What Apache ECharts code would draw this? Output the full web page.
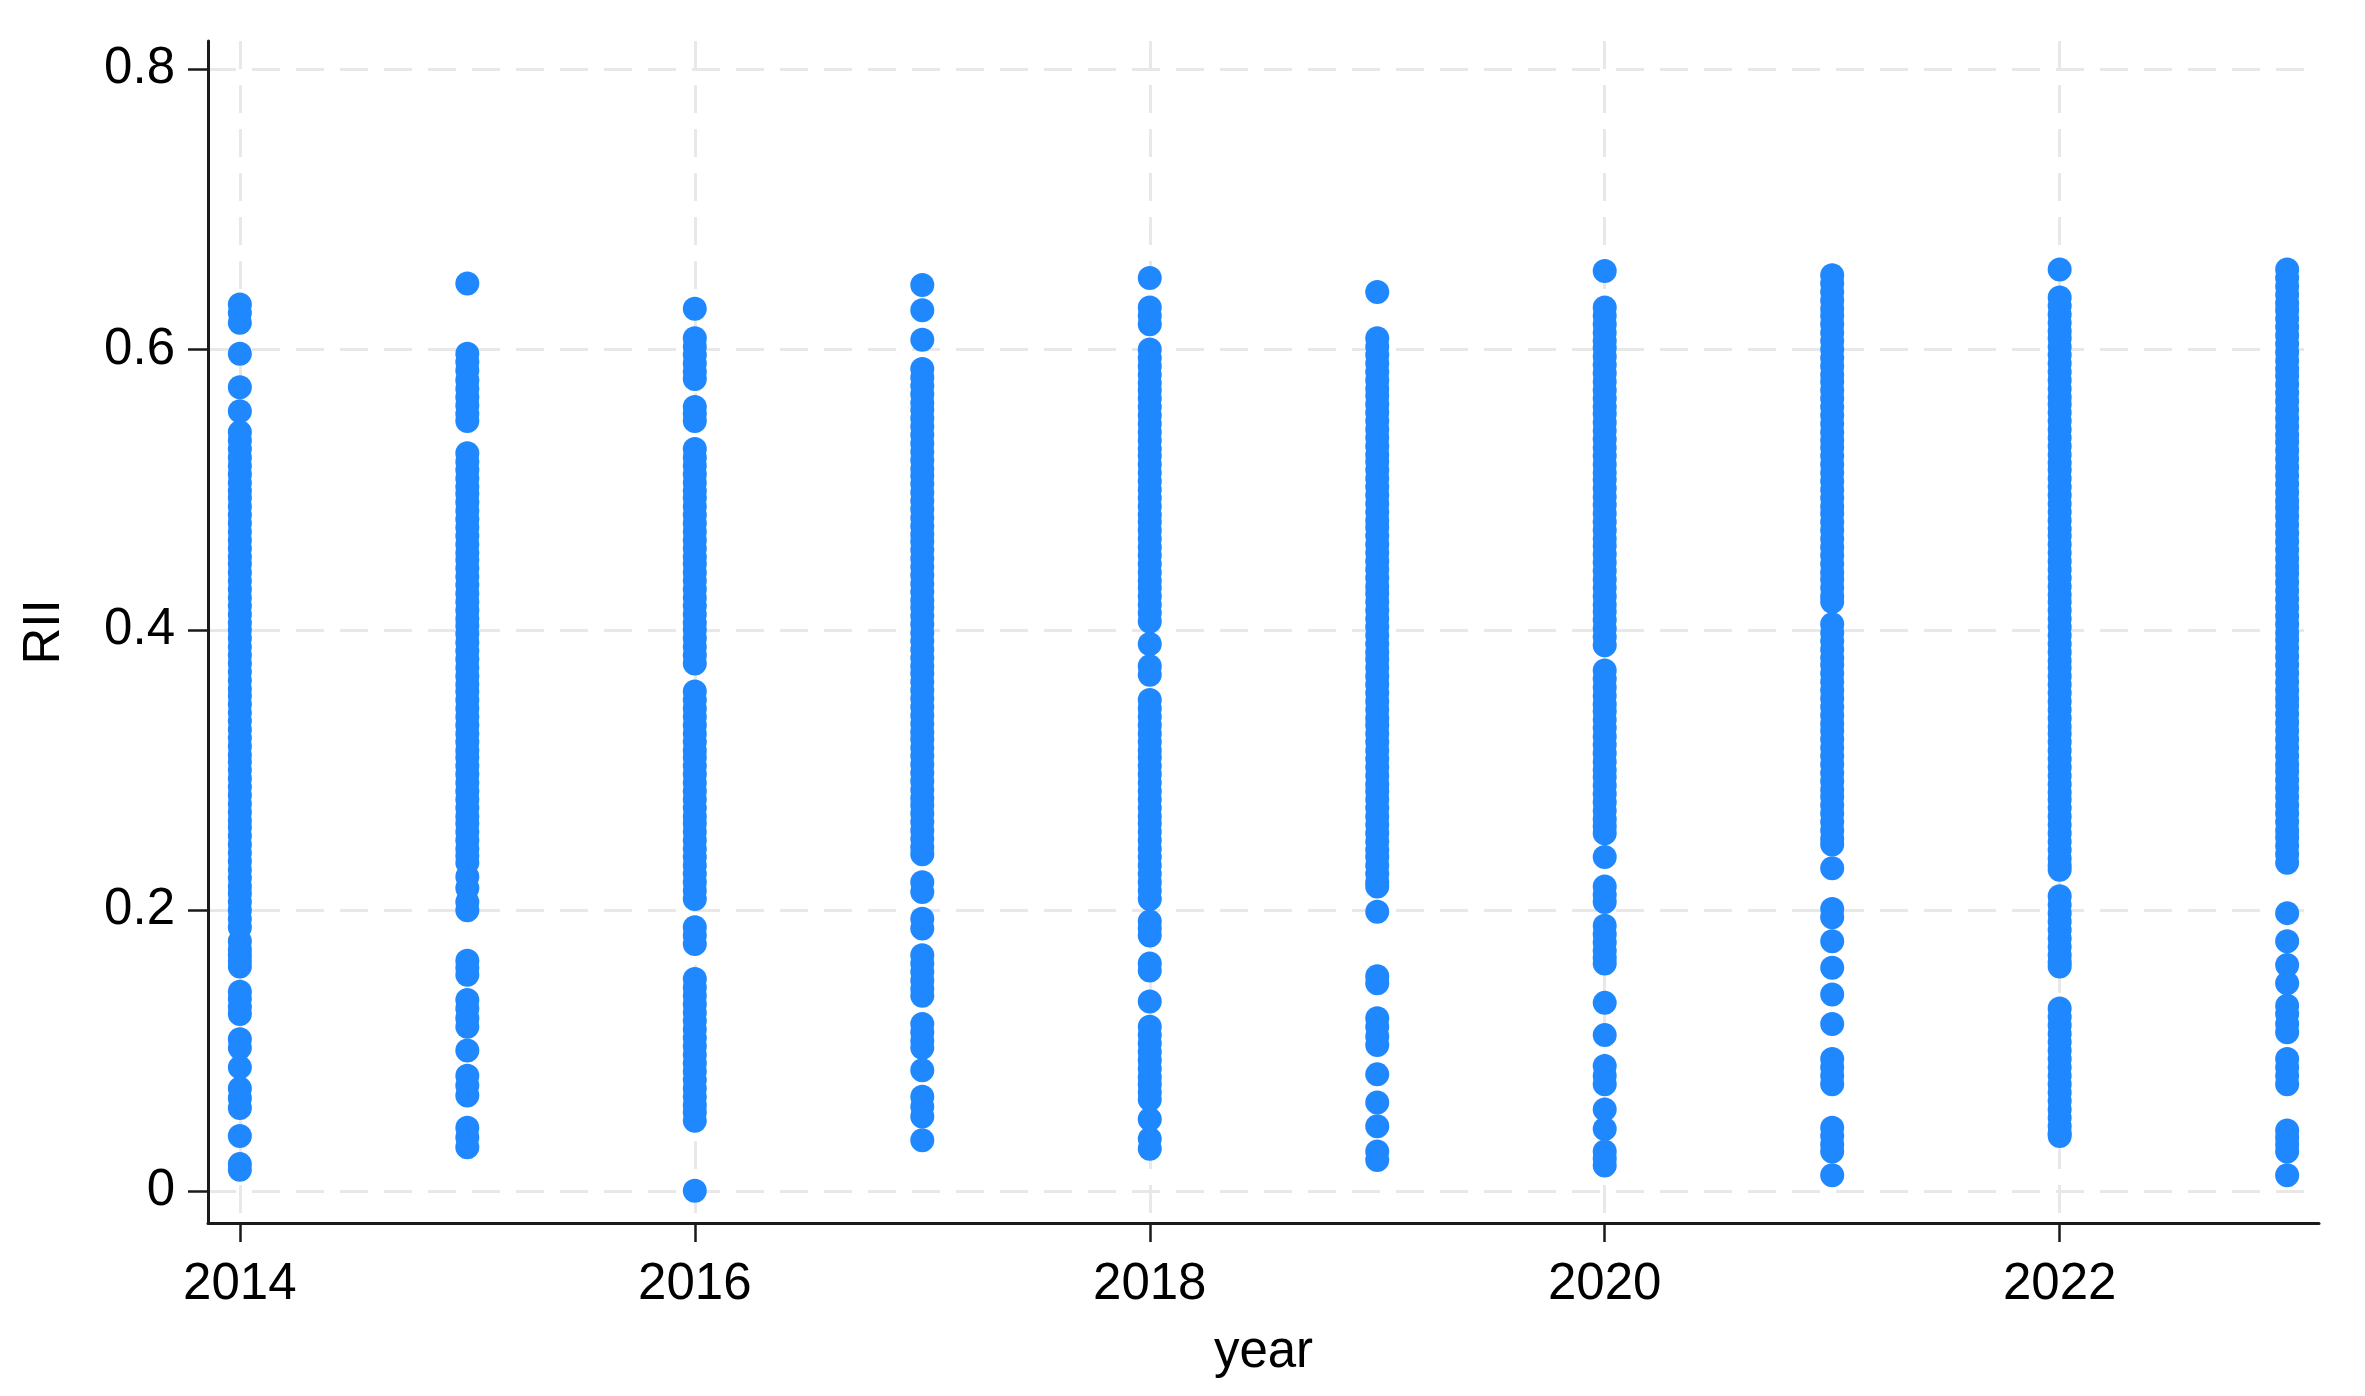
<!DOCTYPE html>
<html>
<head>
<meta charset="utf-8">
<script src="https://cdn.jsdelivr.net/npm/echarts@6/dist/echarts.min.js"></script>
<style>
html,body{margin:0;padding:0;background:#fff;}
#chart{width:2365px;height:1396px;}
</style>
</head>
<body>
<div id="chart"></div>
<script>
const years = [2014, 2015, 2016, 2017, 2018, 2019, 2020, 2021, 2022, 2023];
const xTicks = [2014, 2016, 2018, 2020, 2022];
const yTicks = [0, 0.2, 0.4, 0.6, 0.8];

const y2014 = [0.632,0.626,0.619,0.597,0.573,0.556,
0.541,0.535,0.529,0.523,0.517,0.511,0.505,0.499,0.494,0.488,0.482,0.476,0.470,0.464,0.458,0.452,0.447,0.441,0.435,0.429,0.423,0.417,0.411,0.405,0.400,0.394,0.388,0.382,0.376,0.370,0.364,0.358,0.353,0.347,0.341,0.335,0.329,0.323,0.317,0.311,0.306,0.300,0.294,0.288,0.282,0.276,0.270,0.264,0.259,0.253,0.247,0.241,0.235,0.229,0.223,0.217,0.212,0.206,0.200,0.194,0.188,
0.178,0.172,0.168,0.164,0.160,0.142,0.137,0.131,0.126,0.108,0.102,0.088,0.073,0.066,0.059,0.039,0.019,0.015];
const y2015 = [0.647,0.597,0.591,0.585,0.578,0.572,0.566,0.560,0.554,0.549,
0.526,0.520,0.514,0.508,0.502,0.497,0.491,0.485,0.479,0.473,0.467,0.461,0.455,0.450,0.444,0.438,0.432,0.426,0.420,0.414,0.408,0.403,0.397,0.391,0.385,0.379,0.373,0.367,0.361,0.356,0.350,0.344,0.338,0.332,0.326,0.320,0.314,0.309,0.303,0.297,0.291,0.285,0.279,0.273,0.267,0.262,0.256,0.250,0.244,0.239,0.234,
0.224,0.216,0.206,0.200,0.164,0.159,0.154,0.136,0.130,0.123,0.117,0.100,0.082,0.075,0.068,0.045,0.038,0.031];
const y2016 = [0.629,0.608,0.602,0.596,0.590,0.584,0.579,0.559,0.554,0.549,
0.529,0.523,0.517,0.511,0.505,0.499,0.494,0.488,0.482,0.476,0.470,0.464,0.458,0.452,0.447,0.441,0.435,0.429,0.423,0.417,0.411,0.405,0.400,0.394,0.388,0.382,0.376,
0.356,0.350,0.344,0.338,0.332,0.326,0.320,0.314,0.309,0.303,0.297,0.291,0.285,0.279,0.273,0.267,0.262,0.256,0.250,0.244,0.238,0.232,0.226,0.220,0.214,0.208,
0.188,0.182,0.176,0.151,0.145,0.139,0.133,0.127,0.121,0.115,0.109,0.103,0.097,0.091,0.085,0.079,0.073,0.067,0.061,0.056,0.050,0.000];
const y2017 = [0.646,0.628,0.607,
0.586,0.580,0.574,0.568,0.562,0.557,0.551,0.545,0.539,0.533,0.527,0.521,0.515,0.510,0.504,0.498,0.492,0.486,0.480,0.474,0.468,0.463,0.457,0.451,0.445,0.439,0.433,0.427,0.421,0.416,0.410,0.404,0.398,0.392,0.386,0.380,0.374,0.369,0.363,0.357,0.351,0.345,0.339,0.333,0.327,0.322,0.316,0.310,0.304,0.298,0.292,0.286,0.280,0.275,0.269,0.263,0.257,0.251,0.245,0.240,
0.220,0.213,0.194,0.187,0.168,0.162,0.156,0.150,0.144,0.139,0.119,0.113,0.107,0.102,0.086,0.067,0.060,0.053,0.036];
const y2018 = [0.651,0.630,0.624,0.618,
0.600,0.594,0.588,0.582,0.576,0.571,0.565,0.559,0.553,0.547,0.541,0.535,0.529,0.524,0.518,0.512,0.506,0.500,0.494,0.488,0.482,0.477,0.471,0.465,0.459,0.453,0.447,0.441,0.435,0.430,0.424,0.418,0.412,0.406,
0.390,0.374,0.368,
0.350,0.344,0.338,0.332,0.326,0.320,0.314,0.309,0.303,0.297,0.291,0.285,0.279,0.273,0.267,0.262,0.256,0.250,0.244,0.238,0.232,0.226,0.220,0.214,0.208,
0.192,0.187,0.182,0.162,0.157,0.135,0.117,0.111,0.105,0.099,0.093,0.087,0.081,0.076,0.070,0.065,0.051,0.037,0.030];
const y2019 = [0.641,
0.608,0.602,0.596,0.590,0.584,0.578,0.572,0.567,0.561,0.555,0.549,0.543,0.537,0.531,0.525,0.520,0.514,0.508,0.502,0.496,0.490,0.484,0.478,0.473,0.467,0.461,0.455,0.449,0.443,0.437,0.431,0.426,0.420,0.414,0.408,0.402,0.396,0.390,0.384,0.379,0.373,0.367,0.361,0.355,0.349,0.343,0.337,0.332,0.326,0.320,0.314,0.308,0.302,0.296,0.290,0.285,0.279,0.273,0.267,0.261,0.255,0.249,0.243,0.238,0.232,0.226,0.220,0.217,
0.199,0.153,0.148,0.123,0.117,0.110,0.104,0.083,0.063,0.046,0.028,0.022];
const y2020 = [0.656,
0.630,0.624,0.618,0.612,0.606,0.601,0.595,0.589,0.583,0.577,0.571,0.565,0.559,0.554,0.548,0.542,0.536,0.530,0.524,0.518,0.512,0.507,0.501,0.495,0.489,0.483,0.477,0.471,0.465,0.460,0.454,0.448,0.442,0.436,0.430,0.424,0.418,0.413,0.407,0.401,0.395,0.389,
0.371,0.365,0.359,0.353,0.347,0.342,0.336,0.330,0.324,0.318,0.312,0.306,0.300,0.295,0.289,0.283,0.277,0.271,0.265,0.260,0.255,
0.238,0.217,0.211,0.206,0.189,0.183,0.177,0.171,0.166,0.162,0.134,0.111,0.089,0.082,0.076,0.058,0.044,0.028,0.023,0.018];
const y2021 = [0.653,0.647,0.641,0.635,0.629,0.624,0.618,0.612,0.606,0.600,0.594,0.588,0.582,0.577,0.571,0.565,0.559,0.553,0.547,0.541,0.535,0.530,0.524,0.518,0.512,0.506,0.500,0.494,0.488,0.483,0.477,0.471,0.465,0.459,0.453,0.447,0.441,0.436,0.430,0.424,0.420,
0.404,0.398,0.392,0.386,0.380,0.375,0.369,0.363,0.357,0.351,0.345,0.339,0.333,0.328,0.322,0.316,0.310,0.304,0.298,0.292,0.286,0.281,0.275,0.269,0.263,0.257,0.251,0.247,
0.230,0.201,0.195,0.178,0.159,0.140,0.119,0.094,0.088,0.082,0.076,0.045,0.039,0.033,0.028,0.011];
const y2022 = [0.657,
0.637,0.631,0.625,0.619,0.613,0.608,0.602,0.596,0.590,0.584,0.578,0.572,0.566,0.561,0.555,0.549,0.543,0.537,0.531,0.525,0.519,0.514,0.508,0.502,0.496,0.490,0.484,0.478,0.472,0.467,0.461,0.455,0.449,0.443,0.437,0.431,0.425,0.420,0.414,0.408,0.402,0.396,0.390,0.384,0.378,0.373,0.367,0.361,0.355,0.349,0.343,0.337,0.331,0.326,0.320,0.314,0.308,0.302,0.296,0.290,0.284,0.279,0.273,0.267,0.261,0.255,0.249,0.243,0.237,0.232,0.229,
0.210,0.204,0.198,0.192,0.186,0.180,0.174,0.168,0.163,0.160,
0.130,0.124,0.118,0.112,0.106,0.100,0.094,0.088,0.082,0.076,0.070,0.064,0.058,0.052,0.046,0.041,0.039];
const y2023 = [0.657,0.651,0.645,0.639,0.633,0.628,0.622,0.616,0.610,0.604,0.598,0.592,0.586,0.581,0.575,0.569,0.563,0.557,0.551,0.545,0.539,0.534,0.528,0.522,0.516,0.510,0.504,0.498,0.492,0.487,0.481,0.475,0.469,0.463,0.457,0.451,0.445,0.440,0.434,0.428,0.422,0.416,0.410,0.404,0.398,0.393,0.387,0.381,0.375,0.369,0.363,0.357,0.351,0.346,0.340,0.334,0.328,0.322,0.316,0.310,0.304,0.299,0.293,0.287,0.281,0.275,0.269,0.263,0.257,0.252,0.246,0.240,0.234,
0.198,0.178,0.161,0.148,0.132,0.126,0.119,0.113,0.094,0.088,0.082,0.076,0.043,0.038,0.033,0.028,0.011];

const valuesByYear = [y2014, y2015, y2016, y2017, y2018, y2019, y2020, y2021, y2022, y2023];
const points = [];
years.forEach((yr, i) => valuesByYear[i].forEach(v => points.push([yr, v])));

const FONT = '"Liberation Sans", Arial, sans-serif';
const chart = echarts.init(document.getElementById('chart'), null, {renderer: 'canvas'});
chart.setOption({
  animation: false,
  backgroundColor: '#ffffff',
  grid: {left: 208, right: 46, top: 41, bottom: 173, containLabel: false},
  xAxis: {
    type: 'value',
    min: 2013.86, max: 2023.14,
    name: 'year', nameLocation: 'middle', nameGap: 104,
    nameTextStyle: {fontFamily: FONT, fontSize: 51, color: '#000'},
    axisLine: {show: true, onZero: false, lineStyle: {color: '#1a1a1a', width: 3}},
    axisTick: {show: true, length: 19, customValues: xTicks, lineStyle: {color: '#1a1a1a', width: 2.5}},
    axisLabel: {show: true, customValues: xTicks, margin: 36, fontFamily: FONT, fontSize: 51, color: '#000',
      formatter: v => String(Math.round(v))},
    splitLine: {show: true, lineStyle: {color: '#e8e8e8', width: 3, type: [28, 16]}}
  },
  yAxis: {
    type: 'value',
    min: -0.023, max: 0.82,
    name: 'RII', nameLocation: 'middle', nameGap: 138, nameRotate: 90,
    nameTextStyle: {fontFamily: FONT, fontSize: 51, color: '#000'},
    axisLine: {show: true, onZero: false, lineStyle: {color: '#1a1a1a', width: 3}},
    axisTick: {show: true, length: 20, customValues: yTicks, lineStyle: {color: '#1a1a1a', width: 2.5}},
    axisLabel: {show: true, customValues: yTicks, margin: 33, fontFamily: FONT, fontSize: 51, color: '#000',
      formatter: v => (Math.abs(v) < 1e-9 ? '0' : String(Math.round(v * 10) / 10))},
    splitLine: {show: true, lineStyle: {color: '#e8e8e8', width: 3, type: [28, 16]}}
  },
  series: [{
    type: 'scatter',
    data: points,
    symbol: 'circle',
    symbolSize: 24,
    itemStyle: {color: '#1f88ff', opacity: 1},
    silent: true
  }]
});
</script>
</body>
</html>
